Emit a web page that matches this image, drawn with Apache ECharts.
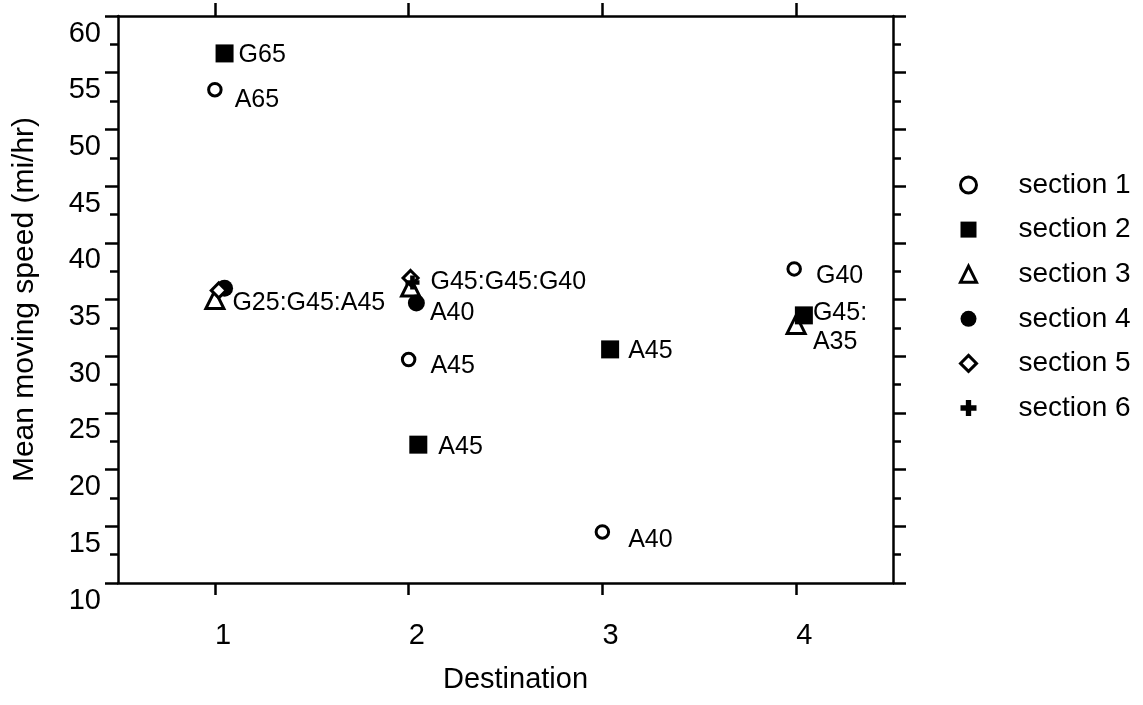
<!DOCTYPE html>
<html><head><meta charset="utf-8">
<script src="https://cdn.jsdelivr.net/npm/echarts@6/dist/echarts.min.js"></script>
<style>html,body{margin:0;padding:0;background:#fff}#c{width:1143px;height:705px}</style>
</head><body><div id="c"></div>
<script>
// ---- data ----
const destinations = [1, 2, 3, 4];
const sectionNames = ['section 1', 'section 2', 'section 3', 'section 4', 'section 5', 'section 6'];
// [destination (slightly jittered as in the picture), mean moving speed mi/hr]
const section1 = [[1.00, 53.5], [2.00, 29.7], [3.00, 14.5], [3.99, 37.7]];
const section1Labels = ['A65', 'A45', 'A40', 'G40'];
const section2 = [[1.05, 56.7], [2.05, 22.2], [3.04, 30.6], [4.04, 33.6]];
const section2Labels = ['G65', 'A45', 'A45', 'G45:\nA35'];
const section3 = [[1.00, 35.0], [2.01, 36.1], [4.00, 32.8]];
const section3Labels = ['G25:G45:A45', '', ''];
const section4 = [[1.05, 36.0], [2.04, 34.7]];
const section4Labels = ['', 'A40'];
const section5 = [[1.02, 35.8], [2.01, 36.9]];
const section5Labels = ['', ''];
const section6 = [[2.02, 36.5]];
const section6Labels = ['G45:G45:G40'];

// ---- styling ----
const FONT = 'Liberation Sans, Arial, Helvetica, sans-serif';
const BLACK = '#000';
const crossPath = 'path://M-1,-3H1V-1H3V1H1V3H-1V1H-3V-1H-1Z';
// label nudges [dx, dy] per series/point (style only)
const nudges = {
  s1: [[12, 10], [14, 7], [18, 8], [14, 7]],
  s2: [[5, 2], [11, 2], [9, 2], [0, 12]],
  s3: [[7, 4], [0, 0], [0, 0]],
  s4: [[0, 0], [5, 10]],
  s5: [[0, 0], [0, 0]],
  s6: [[11, 0]]
};
const hollowSections = [true, false, true, false, true, false];

function items(pts, labels, nud) {
  return pts.map((p, i) => ({
    value: p,
    label: labels[i] ? {
      show: true, position: 'right', distance: 0,
      formatter: labels[i], offset: nud[i],
      color: BLACK, fontSize: 25, fontFamily: FONT, lineHeight: 29
    } : { show: false }
  }));
}

const hollow = { color: '#fff', borderColor: BLACK, borderWidth: 3, opacity: 1 };
const filled = { color: BLACK, borderColor: BLACK, borderWidth: 0, opacity: 1 };

const common = { type: 'scatter', emphasis: { disabled: true }, symbolKeepAspect: true };
const series = [
  Object.assign({}, common, { name: sectionNames[0], symbol: 'circle', symbolSize: 12.5, itemStyle: hollow, data: items(section1, section1Labels, nudges.s1), z: 3 }),
  Object.assign({}, common, { name: sectionNames[1], symbol: 'rect', symbolSize: 18, itemStyle: filled, data: items(section2, section2Labels, nudges.s2), z: 4 }),
  Object.assign({}, common, { name: sectionNames[2], symbol: 'triangle', symbolSize: 18, itemStyle: hollow, data: items(section3, section3Labels, nudges.s3), z: 2 }),
  Object.assign({}, common, { name: sectionNames[3], symbol: 'circle', symbolSize: 17, itemStyle: filled, data: items(section4, section4Labels, nudges.s4), z: 5 }),
  Object.assign({}, common, { name: sectionNames[4], symbol: 'diamond', symbolSize: 15, itemStyle: hollow, data: items(section5, section5Labels, nudges.s5), z: 6 }),
  Object.assign({}, common, { name: sectionNames[5], symbol: crossPath, symbolSize: 14, itemStyle: filled, data: items(section6, section6Labels, nudges.s6), z: 7 })
];

const axisLine = { show: true, onZero: false, lineStyle: { color: BLACK, width: 2.5 } };

const option = {
  animation: false,
  backgroundColor: '#fff',
  grid: { left: 118, right: 250, top: 16, bottom: 122, containLabel: false },
  xAxis: [
    {
      type: 'value', position: 'bottom', min: 0.5, max: 4.5,
      axisLine: axisLine,
      axisTick: { show: true, inside: false, length: 12, customValues: destinations, lineStyle: { color: BLACK, width: 2.5 } },
      axisLabel: { show: true, customValues: destinations, formatter: v => String(v), align: 'left', margin: 38, fontSize: 29, color: BLACK, fontFamily: FONT },
      splitLine: { show: false },
      name: 'Destination', nameLocation: 'middle', nameGap: 82,
      nameTextStyle: { fontSize: 29, color: BLACK, fontFamily: FONT, padding: [0, 0, 0, 20] }
    },
    {
      type: 'value', position: 'top', min: 0.5, max: 4.5,
      axisLine: axisLine,
      axisTick: { show: true, inside: false, length: 13, customValues: destinations, lineStyle: { color: BLACK, width: 2.5 } },
      axisLabel: { show: false },
      splitLine: { show: false }
    }
  ],
  yAxis: [
    {
      type: 'value', position: 'left', min: 10, max: 60, interval: 5,
      axisLine: axisLine,
      axisTick: { show: true, inside: false, length: 13, lineStyle: { color: BLACK, width: 2.5 } },
      minorTick: { show: true, splitNumber: 2, length: 8, lineStyle: { color: BLACK, width: 2.5 } },
      axisLabel: { show: true, margin: 17, verticalAlign: 'top', padding: [3, 0, 0, 0], fontSize: 29, color: BLACK, fontFamily: FONT },
      splitLine: { show: false },
      name: 'Mean moving speed (mi/hr)', nameLocation: 'middle', nameGap: 78,
      nameTextStyle: { fontSize: 30, color: BLACK, fontFamily: FONT }
    },
    {
      type: 'value', position: 'right', min: 10, max: 60, interval: 5,
      axisLine: axisLine,
      axisTick: { show: true, inside: false, length: 13, lineStyle: { color: BLACK, width: 2.5 } },
      minorTick: { show: true, splitNumber: 2, length: 8, lineStyle: { color: BLACK, width: 2.5 } },
      axisLabel: { show: false },
      splitLine: { show: false }
    }
  ],
  legend: {
    orient: 'vertical', left: 954, top: 166,
    itemWidth: 16, itemHeight: 16, itemGap: 16.6,
    selectedMode: false,
    textStyle: { fontSize: 28, color: BLACK, fontFamily: FONT, padding: [0, 0, 0, 37] },
    data: sectionNames.map((n, i) => hollowSections[i]
      ? { name: n, itemStyle: { color: '#fff', borderColor: BLACK, borderWidth: 3 } }
      : { name: n, itemStyle: { color: BLACK, borderWidth: 0 } })
  },
  series: series
};

const chart = echarts.init(document.getElementById('c'), null, { renderer: 'canvas' });
chart.setOption(option);
</script>
</body></html>
